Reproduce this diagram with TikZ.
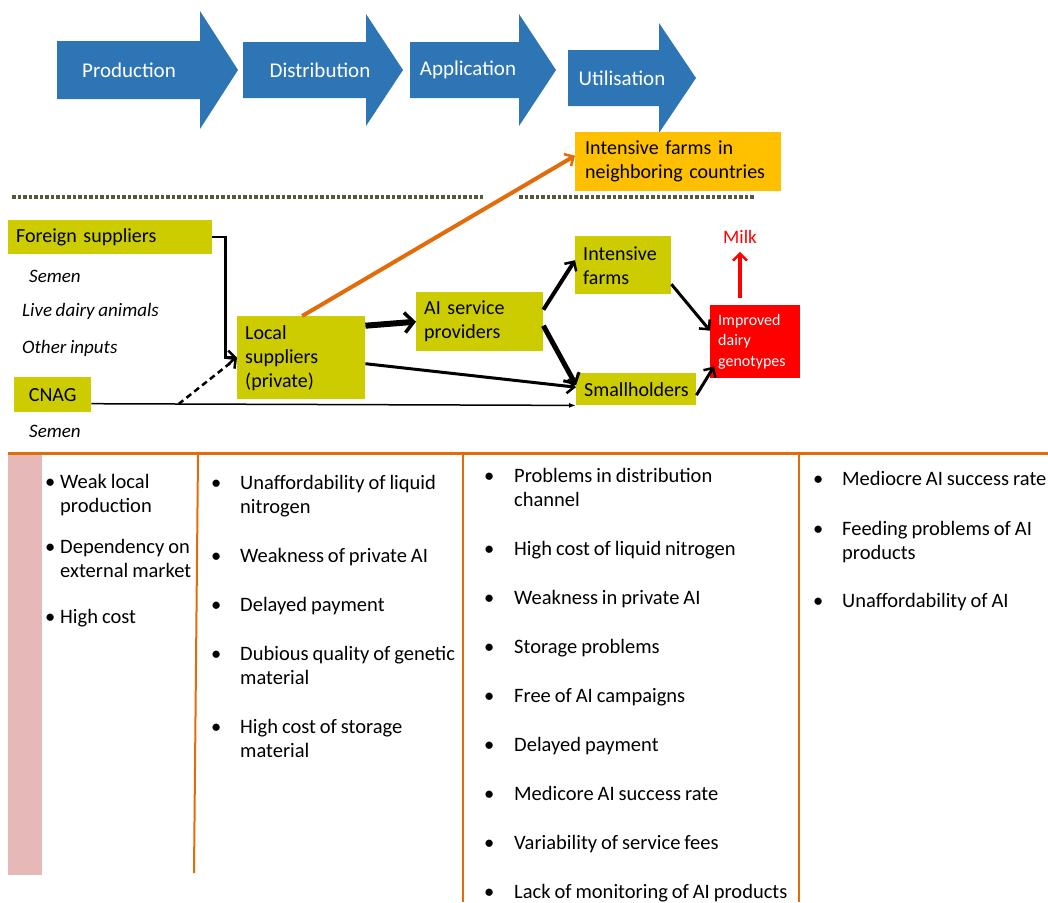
\documentclass[tikz,border=0pt]{standalone}
\usepackage{fontspec}
\setmainfont{Carlito}[WordSpace=0.85]
\usetikzlibrary{arrows.meta,positioning,calc}
\definecolor{stageblue}{HTML}{2E75B6}
\definecolor{boxgreen}{HTML}{CCCC00}
\definecolor{boxgold}{HTML}{FFC000}
\definecolor{lineorange}{HTML}{E36C0A}
\definecolor{sidepink}{HTML}{E6B9B8}
\definecolor{dotgrey}{HTML}{57573F}
\tikzset{box/.style={fill=boxgreen,anchor=north west,inner xsep=8pt,inner ysep=0pt,align=left,font=\fontsize{20}{24}\selectfont}}
\tikzset{stagetext/.style={text=white,font=\fontsize{21}{25}\selectfont}}
\tikzset{inputlabel/.style={anchor=west,inner sep=0pt,font=\fontsize{19}{23}\selectfont\itshape}}
\tikzset{col/.style={anchor=north west,inner sep=0pt,font=\fontsize{20.5}{24}\selectfont}}
\tikzset{link/.style={black,line width=2.5pt,-{Straight Barb[length=7pt,width=14pt,line width=2.5pt]}}}
\tikzset{sepline/.style={dotgrey,line width=4pt,dash pattern=on 3.5pt off 2pt}}
\tikzset{divider/.style={lineorange,line width=2pt}}

\begin{document}
\begin{tikzpicture}[x=1pt,y=-1pt]
  \useasboundingbox (0,0) rectangle (1048,902);
  % value chain stages
  \foreach \xl/\xr/\xt/\ym/\bh/\hh/\lx/\lab [count=\i] in {57/200/238/70/29/59/129/Production,
      243/366/403/70/28/56/320/Distribution, 410/519/556/70/28/56/468/Application,
      568/659/696/78/28/55/622/Utilisation}{
    \fill[stageblue] (\xl,\ym-\bh) -- (\xr,\ym-\bh) -- (\xr,\ym-\hh) -- (\xt,\ym)
      -- (\xr,\ym+\hh) -- (\xr,\ym+\bh) -- (\xl,\ym+\bh) -- cycle;
    \node[stagetext] (stage\i) at (\lx,\ym) {\lab};
  };
  \draw[sepline] (12,197) -- (483,197);
  \draw[sepline] (519,197) -- (755,197);

  % actors
  \node[box,fill=boxgold,text width=186pt,inner xsep=10pt,minimum height=59pt] (neighbor) at (575,132) {Intensive farms in\\neighboring countries};
  \node[box,text width=188pt,minimum height=34pt] (foreign) at (8,220) {Foreign suppliers};
  \node[box,text width=61pt,align=center,minimum height=35pt] (cnag) at (14,377) {CNAG};
  \node[box,text width=112pt,minimum height=83pt] (local) at (237,316) {Local\\suppliers\\(private)};
  \node[box,text width=111pt,minimum height=59pt] (ai) at (416,292) {AI service\\providers};
  \node[box,text width=80pt,minimum height=58pt] (intensive) at (575,236) {Intensive\\farms};
  \node[box,text width=104pt,minimum height=32pt] (small) at (576,373) {Smallholders};
  \node[box,fill=red,text=white,text width=74pt,minimum height=73pt,font=\fontsize{16}{20.5}\selectfont] (improved) at (710,305) {Improved\\dairy\\genotypes};
  \node[red,inner sep=2pt,font=\fontsize{19}{23}\selectfont] (milk) at (740,237) {Milk};

  \node[inputlabel] (semenA) at (29,276) {Semen};
  \node[inputlabel] (live) at (22,311) {Live dairy animals};
  \node[inputlabel] (other) at (22,348) {Other inputs};
  \node[inputlabel] (semenB) at (29,431) {Semen};

  % flows
  \draw[link] (foreign.east) -- ++(13,0) |- (local.west);
  \draw[black,line width=1.5pt,-{Latex[length=7pt,width=5pt]}] ([yshift=-9pt]cnag.east) -- coordinate[pos=0.18] (fork) (small.south west);
  \draw[link,dash pattern=on 6pt off 4pt] (fork) -- (local.west);
  \draw[link,lineorange,line width=4pt] ([xshift=1pt]local.north) -- ([yshift=6pt]neighbor.west);
  \draw[link,line width=6pt,-{Straight Barb[length=9pt,width=20pt,line width=3.5pt]}] ([yshift=32pt]local.east) -- (ai.west);
  \draw[link,line width=3pt] ([yshift=-6pt]local.east) -- ([yshift=2pt]small.west);
  \draw[link,line width=4pt] ([yshift=12pt]ai.east) -- ([yshift=5pt]intensive.west);
  \draw[link,line width=5pt,-{Straight Barb[length=8pt,width=18pt,line width=3pt]}] ([yshift=-4pt]ai.east) -- ([yshift=4pt]small.west);
  \draw[link,line width=3pt] ([yshift=-19pt]intensive.east) -- ([yshift=11pt]improved.west);
  \draw[link,line width=3pt] ([yshift=-6pt]small.east) -- ([xshift=4pt,yshift=12pt]improved.south west);
  \draw[link,red,line width=4pt] ($(improved.north -| milk.south)+(0,-7)$) -- ([yshift=-6pt]milk.south);

  % constraints per stage
  \draw[lineorange,line width=3pt] (8,453) -- (1048,453);
  \fill[sidepink] (8,455) rectangle (42,875);
  \draw[divider] (198,455) -- (194,873);
  \draw[divider] (463,455) -- (463,902);
  \draw[divider] (799,455) -- (799,902);

  \node[col] (colA) at (45,471) {\begin{tabular}{@{}p{15pt}@{}l@{}}
    \textbullet & Weak local\\ & production\\[17pt]
    \textbullet & Dependency on\\ & external market\\[22pt]
    \textbullet & High cost
  \end{tabular}};
  \node[col] (colB) at (211,472) {\begin{tabular}{@{}p{29pt}@{}l@{}}
    \textbullet & Unaffordability of liquid\\ & nitrogen\\[25pt]
    \textbullet & Weakness of private AI\\[25pt]
    \textbullet & Delayed payment\\[25pt]
    \textbullet & Dubious quality of genetic\\ & material\\[25pt]
    \textbullet & High cost of storage\\ & material
  \end{tabular}};
  \node[col] (colC) at (484,465) {\begin{tabular}{@{}p{30pt}@{}l@{}}
    \textbullet & Problems in distribution\\ & channel\\[25pt]
    \textbullet & High cost of liquid nitrogen\\[25pt]
    \textbullet & Weakness in private AI\\[25pt]
    \textbullet & Storage problems\\[25pt]
    \textbullet & Free of AI campaigns\\[25pt]
    \textbullet & Delayed payment\\[25pt]
    \textbullet & Medicore AI success rate\\[25pt]
    \textbullet & Variability of service fees\\[25pt]
    \textbullet & Lack of monitoring of AI products
  \end{tabular}};
  \node[col] (colD) at (813,468) {\begin{tabular}{@{}p{29pt}@{}l@{}}
    \textbullet & Mediocre AI success rate\\[26pt]
    \textbullet & Feeding problems of AI\\ & products\\[24pt]
    \textbullet & Unaffordability of AI
  \end{tabular}};
\end{tikzpicture}
\end{document}
